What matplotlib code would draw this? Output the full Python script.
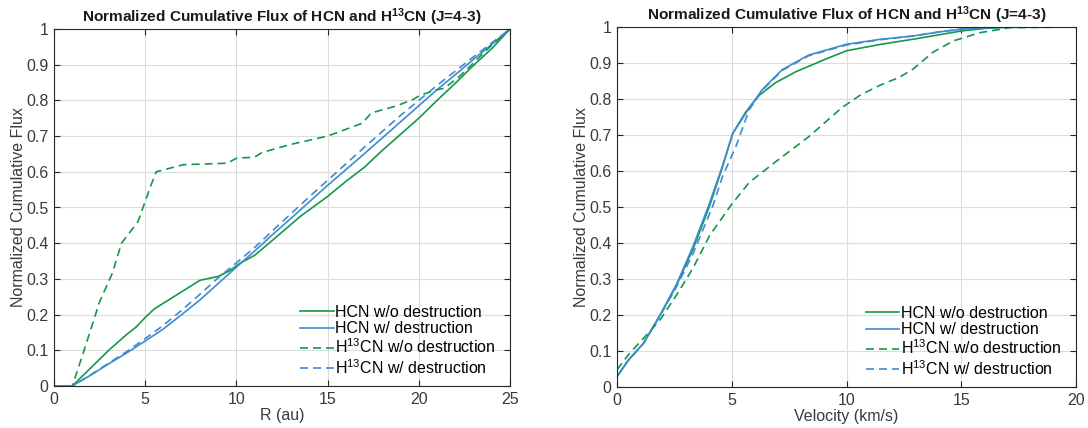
import matplotlib
matplotlib.use('Agg')
import matplotlib.pyplot as plt
from matplotlib.ticker import FormatStrFormatter, MultipleLocator

plt.rcParams['font.family'] = ['Liberation Sans', 'DejaVu Sans']
plt.rcParams['mathtext.fontset'] = 'custom'
plt.rcParams['mathtext.rm'] = 'Liberation Sans'
plt.rcParams['mathtext.default'] = 'regular'

green = '#13984a'
blue = '#3f8ad0'

# ---- left panel: cumulative flux vs radius ----
r_hcn = [0, 1, 2, 3, 4, 4.5, 5, 5.5, 6, 7, 8, 9, 9.6, 10.2, 11, 12, 13.5, 15,
         16, 17, 18, 19, 20, 21, 22, 23, 24, 25]
f_hcn = [0, 0, 0.05, 0.10, 0.145, 0.165, 0.192, 0.216, 0.232, 0.264, 0.296,
         0.307, 0.322, 0.344, 0.366, 0.409, 0.475, 0.531, 0.573, 0.612, 0.66,
         0.705, 0.75, 0.80, 0.848, 0.898, 0.945, 1.0]

r_hcn_d = [0, 1, 2, 3, 4, 5, 6, 7, 8, 9, 10, 11, 12, 13, 14, 15, 16, 17, 18,
           19, 20, 21, 22, 23, 24, 25]
f_hcn_d = [0, 0, 0.03, 0.062, 0.093, 0.126, 0.16, 0.2, 0.241, 0.287, 0.333,
           0.378, 0.425, 0.47, 0.516, 0.562, 0.606, 0.65, 0.695, 0.74, 0.785,
           0.83, 0.872, 0.915, 0.957, 1.0]

r_h13 = [0, 1, 1.6, 2.5, 3.2, 3.7, 4.6, 5.3, 5.6, 7.1, 9.5, 10.0, 11.0, 11.4,
         13.0, 15.0, 16.9, 17.4, 18.8, 19.7, 20.1, 21.0, 21.4, 22.2, 22.9,
         23.9, 25]
f_h13 = [0, 0, 0.092, 0.236, 0.316, 0.40, 0.46, 0.56, 0.60, 0.62, 0.624,
         0.638, 0.641, 0.654, 0.677, 0.70, 0.736, 0.765, 0.785, 0.803, 0.815,
         0.83, 0.834, 0.866, 0.9, 0.95, 1.0]

r_h13_d = r_hcn_d
f_h13_d = [0, 0, 0.031, 0.064, 0.097, 0.133, 0.17, 0.212, 0.257, 0.303, 0.345,
           0.388, 0.436, 0.483, 0.53, 0.576, 0.622, 0.668, 0.713, 0.758, 0.80,
           0.842, 0.882, 0.922, 0.961, 1.0]

# ---- right panel: cumulative flux vs velocity ----
v_hcn = [0, 0.5, 1.15, 1.87, 2.59, 3.31, 4.03, 4.6, 5.04, 5.61, 6.19, 6.9,
         7.77, 9.06, 10, 11.5, 12.9, 14, 15, 16, 17.2, 20]
g_hcn = [0.029, 0.075, 0.121, 0.199, 0.282, 0.383, 0.502, 0.612, 0.704, 0.764,
         0.81, 0.845, 0.875, 0.91, 0.934, 0.952, 0.966, 0.978, 0.989, 0.996,
         1.0, 1.0]

v_hcn_d = [0, 0.5, 1.15, 1.87, 2.59, 3.31, 4.0, 4.6, 5.04, 5.76, 6.33, 7.19,
           8.35, 10, 11.5, 12.9, 14, 15, 16, 17.1, 20]
g_hcn_d = [0.029, 0.075, 0.121, 0.199, 0.285, 0.39, 0.505, 0.615, 0.704, 0.775,
           0.826, 0.881, 0.922, 0.952, 0.966, 0.975, 0.986, 0.994, 0.998, 1.0,
           1.0]

v_h13 = [0, 0.5, 1.15, 1.87, 2.59, 3.31, 4.03, 5, 5.76, 6.9, 8.35, 9.78,
         10.58, 11.45, 12.3, 12.9, 13.77, 14.64, 15.8, 17.1, 20]
g_h13 = [0.048, 0.09, 0.135, 0.186, 0.255, 0.33, 0.42, 0.508, 0.568, 0.625,
         0.695, 0.775, 0.81, 0.838, 0.86, 0.883, 0.93, 0.961, 0.984, 0.998, 1.0]

v_h13_d = [0, 0.5, 1.15, 1.87, 2.59, 3.31, 4.17, 4.6, 5.18, 5.76, 6.33, 7.19,
           8.35, 10, 11.5, 12.9, 14, 15, 16, 17.1, 20]
g_h13_d = [0.029, 0.075, 0.121, 0.197, 0.278, 0.37, 0.502, 0.585, 0.668, 0.77,
           0.824, 0.879, 0.92, 0.95, 0.965, 0.975, 0.986, 0.994, 0.998, 1.0,
           1.0]

labels = ['HCN w/o destruction', 'HCN w/ destruction',
          'H$^{13}$CN w/o destruction', 'H$^{13}$CN w/ destruction']
title = 'Normalized Cumulative Flux of HCN and H$^{13}$CN (J=4-3)'

fig = plt.figure(figsize=(10.88, 4.28), dpi=100)
ax1 = fig.add_axes([54 / 1088, 1 - 386 / 428, 456 / 1088, 357 / 428])
ax2 = fig.add_axes([617 / 1088, 1 - 387 / 428, 459 / 1088, 360 / 428])

dash = (4.8, 3.0)
lw = 1.2


def style(ax, xmax, xstep, xlabel):
    ax.set_xlim(0, xmax)
    ax.set_ylim(0, 1)
    ax.xaxis.set_major_locator(MultipleLocator(xstep))
    ax.yaxis.set_major_locator(MultipleLocator(0.1))
    ax.xaxis.set_major_formatter(FormatStrFormatter('%g'))
    ax.yaxis.set_major_formatter(FormatStrFormatter('%g'))
    ax.grid(True, color='#dcdcdc', lw=0.8)
    ax.set_axisbelow(True)
    ax.tick_params(direction='in', top=True, right=True, length=4,
                   labelsize=11.5, colors='#262626', labelcolor='#3a3a3a',
                   pad=4)
    for s in ax.spines.values():
        s.set_color('#262626')
        s.set_linewidth(0.8)
    ax.set_xlabel(xlabel, fontsize=11.5, color='#3a3a3a', labelpad=1)
    ax.set_ylabel('Normalized Cumulative Flux', fontsize=11.5,
                  color='#3a3a3a', labelpad=0)
    ax.set_title(title, fontsize=11.1, fontweight='bold', color='#1a1a1a',
                 pad=5)
    ax.legend(loc='lower right', frameon=False, fontsize=11.5,
              handlelength=2.1, handletextpad=0.1, labelspacing=0.1,
              borderaxespad=0.0, bbox_to_anchor=(0.983, 0.008))


ax1.plot(r_hcn, f_hcn, color=green, lw=lw, label=labels[0])
ax1.plot(r_hcn_d, f_hcn_d, color=blue, lw=lw, label=labels[1])
ax1.plot(r_h13, f_h13, color=green, lw=lw, dashes=dash, label=labels[2])
ax1.plot(r_h13_d, f_h13_d, color=blue, lw=lw, dashes=dash, label=labels[3])
style(ax1, 25, 5, 'R (au)')

ax2.plot(v_hcn, g_hcn, color=green, lw=lw, label=labels[0])
ax2.plot(v_hcn_d, g_hcn_d, color=blue, lw=lw, label=labels[1])
ax2.plot(v_h13, g_h13, color=green, lw=lw, dashes=dash, label=labels[2])
ax2.plot(v_h13_d, g_h13_d, color=blue, lw=lw, dashes=dash, label=labels[3])
style(ax2, 20, 5, 'Velocity (km/s)')

fig.savefig('out.png', dpi=100)
